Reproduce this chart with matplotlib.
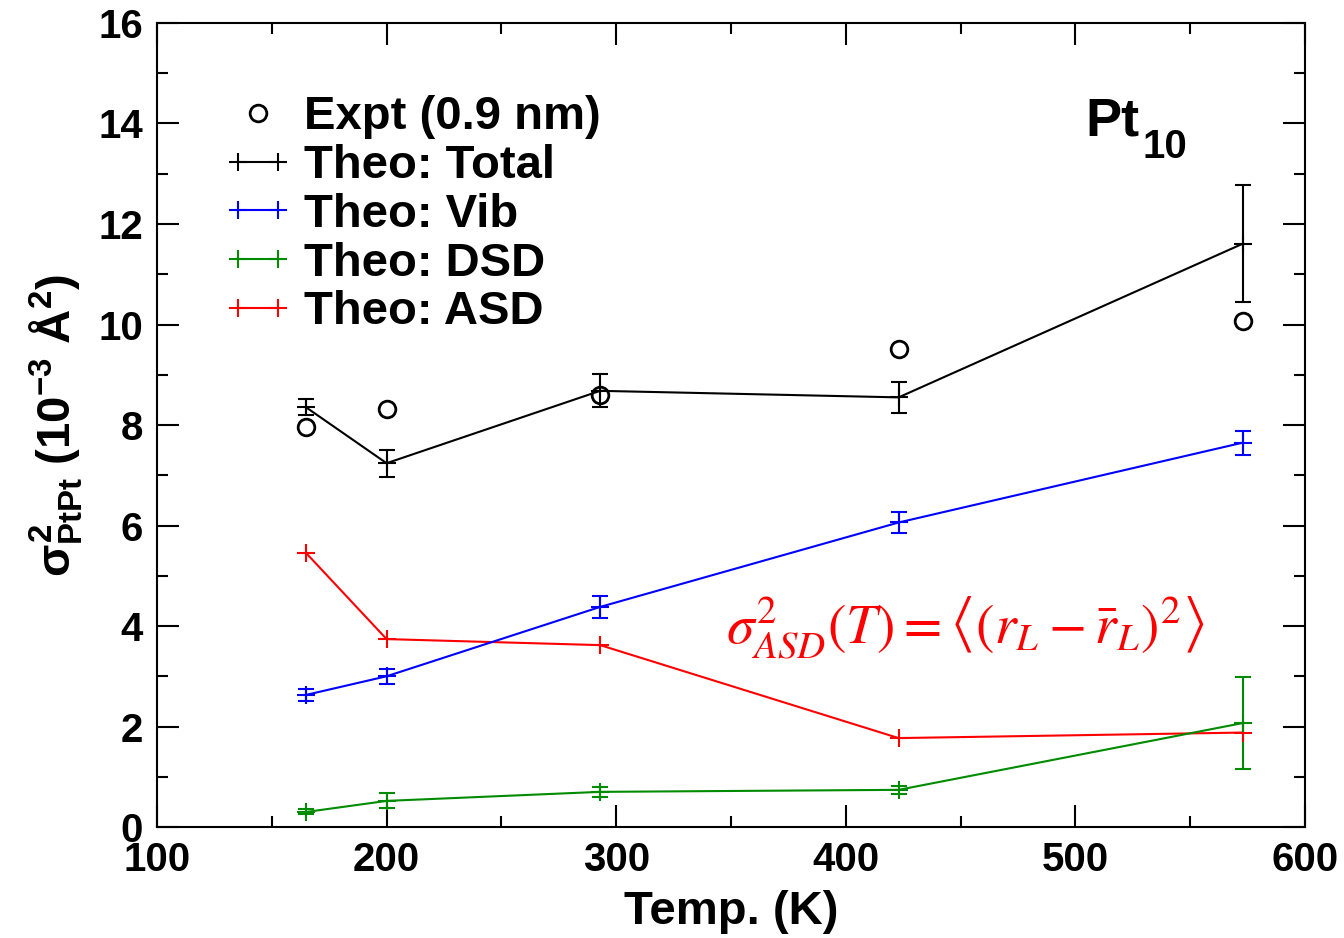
import matplotlib
matplotlib.use('Agg')
import matplotlib.pyplot as plt
from matplotlib.lines import Line2D
from matplotlib.legend_handler import HandlerLine2D
from matplotlib.ticker import MultipleLocator

# data (sigma^2 in 1e-3 A^2)
temp = [165, 200, 293, 423, 573]
expt = [7.96, 8.32, 8.60, 9.51, 10.07]
total = [8.35, 7.24, 8.68, 8.55, 11.61]
total_err = [0.16, 0.27, 0.33, 0.31, 1.17]
vib = [2.63, 3.00, 4.38, 6.06, 7.65]
vib_err = [0.12, 0.15, 0.22, 0.21, 0.24]
dsd = [0.30, 0.52, 0.70, 0.74, 2.07]
dsd_err = [0.05, 0.15, 0.10, 0.08, 0.91]
asd = [5.45, 3.74, 3.62, 1.77, 1.88]

green = '#008b00'

plt.rcParams['font.family'] = ['Liberation Sans', 'DejaVu Sans']
plt.rcParams['axes.labelweight'] = 'bold'
plt.rcParams['mathtext.fontset'] = 'custom'
plt.rcParams['mathtext.rm'] = 'Liberation Sans:bold'
plt.rcParams['mathtext.it'] = 'Liberation Sans:bold'
plt.rcParams['mathtext.bf'] = 'Liberation Sans:bold'
plt.rcParams['mathtext.sf'] = 'Liberation Sans:bold'

fig = plt.figure(figsize=(13.44, 9.38), dpi=100)
ax = fig.add_axes([0.1168, 0.1183, 0.8542, 0.8572])

lw = 1.5
eb = dict(lw=lw, marker='+', ms=13, mew=lw, capsize=6, capthick=lw, elinewidth=lw)
ax.errorbar(temp, total, yerr=total_err, color='k', **eb)
ax.errorbar(temp, vib, yerr=vib_err, color='b', **eb)
ax.errorbar(temp, dsd, yerr=dsd_err, color=green, **eb)
ax.plot(temp, asd, color='r', lw=lw, marker='+', ms=13, mew=lw)
ax.plot(temp, expt, 'o', mfc='none', mec='k', ms=12, mew=2, zorder=5)

ax.set_xlim(100, 600)
ax.set_ylim(0, 16)
ax.xaxis.set_major_locator(MultipleLocator(100))
ax.xaxis.set_minor_locator(MultipleLocator(50))
ax.yaxis.set_major_locator(MultipleLocator(2))
ax.yaxis.set_minor_locator(MultipleLocator(1))
ax.tick_params(which='both', direction='in', top=True, right=True, width=1.5,
               labelsize=29, pad=10)
ax.tick_params(which='major', length=16)
ax.tick_params(which='minor', length=8)
for t in ax.get_xticklabels() + ax.get_yticklabels():
    t.set_fontweight('bold')
for s in ax.spines.values():
    s.set_linewidth(1.5)

ax.set_xlabel('Temp. (K)', fontsize=34, labelpad=8)
ax.set_ylabel(r'$\sigma^2_{PtPt}$ (10$^{-3}$ Å$^2$)', fontsize=34)
ax.yaxis.set_label_coords(-0.063, 0.5)

ax.text(504.5, 13.77, 'Pt', fontsize=39, fontweight='bold', ha='left', va='baseline')
ax.text(529, 13.31, '10', fontsize=29, fontweight='bold', ha='left', va='baseline')
ax.text(452, 3.96, r'$\sigma^2_{ASD}(T) = \left\langle(r_L - \bar{r}_L)^2\right\rangle$',
        color='r', fontsize=40, math_fontfamily='stix', ha='center', va='center')

h_expt = Line2D([], [], ls='none', marker='o', mfc='none', mec='k', ms=12, mew=2)
hs = [h_expt]
for c in ['k', 'b', green, 'r']:
    hs.append(Line2D([], [], color=c, lw=lw, marker='+', ms=13, mew=lw))
labels = ['Expt (0.9 nm)', 'Theo: Total', 'Theo: Vib', 'Theo: DSD', 'Theo: ASD']
ax.legend(hs, labels, loc='upper left', bbox_to_anchor=(0.058, 0.91), frameon=False,
          prop={'size': 34, 'weight': 'bold'}, numpoints=2, handlelength=1.45,
          handletextpad=0.25, labelspacing=0.1, borderpad=0, borderaxespad=0,
          handler_map={h_expt: HandlerLine2D(numpoints=1)})

fig.savefig('out.png', dpi=100)
